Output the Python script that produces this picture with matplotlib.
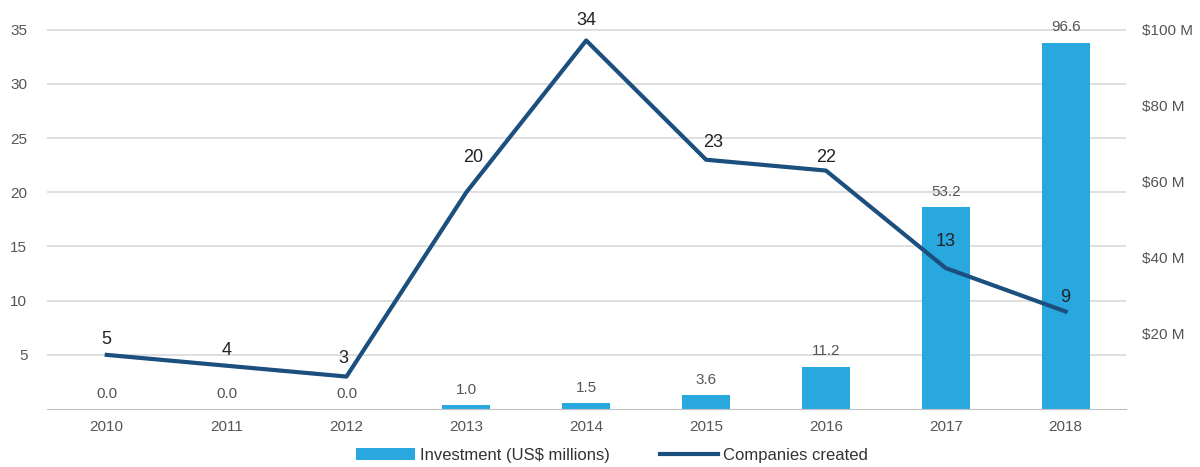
import matplotlib.pyplot as plt
import numpy as np

plt.rcParams['font.family'] = ['Liberation Sans', 'DejaVu Sans']

years = ['2010', '2011', '2012', '2013', '2014', '2015', '2016', '2017', '2018']
investment = [0.0, 0.0, 0.0, 1.0, 1.5, 3.6, 11.2, 53.2, 96.6]  # US$ millions
companies = [5, 4, 3, 20, 34, 23, 22, 13, 9]

bar_color = '#29a8e0'
line_color = '#1b4f7e'
grid_color = '#d9d9d9'
tick_color = '#555555'

fig = plt.figure(figsize=(12, 4.67), dpi=100, facecolor='white')
ax = fig.add_axes([0.039, 0.124, 0.899, 0.859])
ax2 = ax.twinx()

x = np.arange(len(years))

# gridlines on a background axes so they sit behind the bars
ax_bg = fig.add_axes(ax.get_position(), zorder=-1)
ax_bg.set_xlim(-0.5, len(years) - 0.5)
ax_bg.set_ylim(0, 37)
ax_bg.set_yticks([5, 10, 15, 20, 25, 30, 35])
ax_bg.yaxis.grid(True, color=grid_color, linewidth=1.2)
ax_bg.tick_params(left=False, bottom=False, labelleft=False, labelbottom=False)
for side in ax_bg.spines:
    ax_bg.spines[side].set_visible(False)

# bars on the right axis (investment)
ax2.bar(x, investment, width=0.4, color=bar_color, zorder=2,
        label='Investment (US$ millions)')
for xi, v in zip(x, investment):
    ax2.annotate(f'{v:.1f}', (xi, v), xytext=(0, 6), textcoords='offset points',
                 ha='center', va='bottom', fontsize=11, color=tick_color)

# line on the left axis (companies)
ax.set_zorder(ax2.get_zorder() + 1)
ax.patch.set_visible(False)
ax.plot(x, companies, color=line_color, linewidth=3, zorder=3,
        solid_joinstyle='round', label='Companies created')
offsets = [(0, 5), (0, 5), (-2, 7), (5, 19), (0, 8), (5, 6), (0, 3), (0, 13), (0, 4)]
for xi, v, off in zip(x, companies, offsets):
    ax.annotate(str(v), (xi, v), xytext=off, textcoords='offset points',
                ha='center', va='bottom', fontsize=13, color='#222222')

ax.set_xlim(-0.5, len(years) - 0.5)
ax.set_ylim(0, 37)
ax2.set_ylim(0, 37 * 100 / 35)

ax.set_yticks([5, 10, 15, 20, 25, 30, 35])
ax2.set_yticks([20, 40, 60, 80, 100])
ax2.set_yticklabels([f'${v} M' for v in [20, 40, 60, 80, 100]])
ax.set_xticks(x)
ax.set_xticklabels(years)

for a in (ax, ax2):
    a.grid(False)
    for side in ('top', 'left', 'right', 'bottom'):
        a.spines[side].set_visible(False)
    a.tick_params(length=0, colors=tick_color, labelsize=11)
ax.spines['bottom'].set_visible(True)
ax.spines['bottom'].set_color('#bfbfbf')
ax.tick_params(axis='y', pad=14)
ax.tick_params(axis='x', pad=8)
ax2.tick_params(axis='y', pad=12)

h1, l1 = ax2.get_legend_handles_labels()
h2, l2 = ax.get_legend_handles_labels()
fig.legend(h1 + h2, l1 + l2, loc='center', bbox_to_anchor=(0.51, 0.025),
           ncol=2, frameon=False, fontsize=12, handlelength=3.5,
           columnspacing=3, handletextpad=0.3, labelcolor='#333333')

fig.savefig('out.png', dpi=100, facecolor='white')
